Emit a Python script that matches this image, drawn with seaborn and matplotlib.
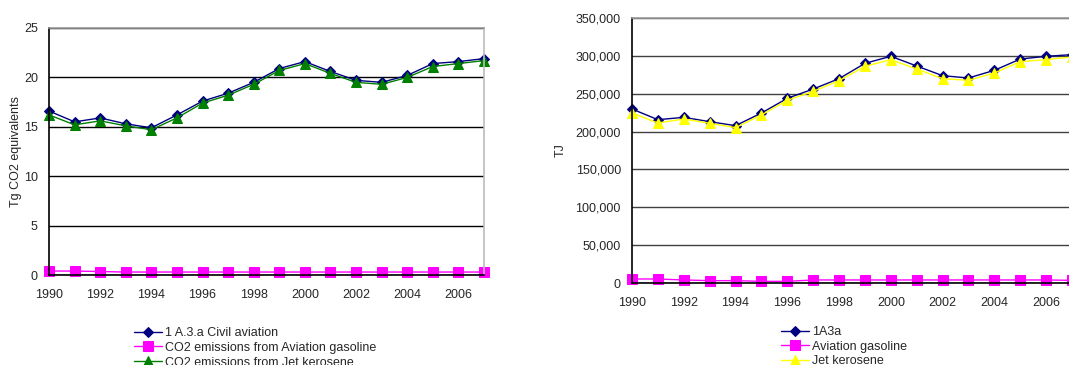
import matplotlib
matplotlib.use("Agg")
import matplotlib.pyplot as plt
import matplotlib.ticker as mticker
import seaborn as sns
import pandas as pd

years = list(range(1990, 2008))

# Left chart: Tg CO2 equivalents
civil_co2 = [16.6, 15.5, 15.9, 15.3, 14.9, 16.2, 17.6, 18.4, 19.5, 20.9, 21.6, 20.6, 19.7, 19.5, 20.2, 21.4, 21.6, 21.9]
avgas_co2 = [0.4, 0.4, 0.35, 0.3, 0.3, 0.3, 0.3, 0.3, 0.3, 0.3, 0.3, 0.3, 0.3, 0.3, 0.3, 0.3, 0.3, 0.3]
jet_co2 = [16.2, 15.2, 15.6, 15.1, 14.7, 15.9, 17.4, 18.2, 19.3, 20.7, 21.4, 20.4, 19.5, 19.3, 20.0, 21.1, 21.4, 21.7]

# Right chart: TJ
civil_tj = [229800, 215700, 218800, 213100, 207800, 224500, 243900, 256200, 269900, 290100, 299400, 286600, 273800, 270800, 280900, 295800, 299400, 301600]
avgas_tj = [5300, 5300, 4000, 3100, 3100, 2200, 2200, 4000, 4000, 4000, 4000, 4000, 4000, 4000, 4000, 4000, 4000, 3500]
jet_tj = [224500, 211300, 216600, 210900, 205200, 221900, 241300, 253100, 267200, 286200, 295000, 282600, 269900, 267700, 277400, 292300, 295000, 298500]

left_labels = ["1 A.3.a Civil aviation", "CO2 emissions from Aviation gasoline", "CO2 emissions from Jet kerosene"]
right_labels = ["1A3a", "Aviation gasoline", "Jet kerosene"]

sns.set_style("white")
plt.rcParams['font.family'] = ['Liberation Sans', 'DejaVu Sans']
plt.rcParams['font.size'] = 9

fig = plt.figure(figsize=(10.69, 3.65), dpi=100)
axL = fig.add_axes([49/1069, 1-275/365, (484-49)/1069, (275-28)/365])
axR = fig.add_axes([632/1069, 1-283/365, (1072-632)/1069, (283-18)/365])


def draw(ax, series, labels, third_color, grid_color):
    st = [dict(color="#000080", marker="D", markersize=5, mfc="#000080", mec="#000080"),
          dict(color="#FF00FF", marker="s", markersize=7, mfc="#FF00FF", mec="#FF00FF"),
          dict(color=third_color, marker="^", markersize=7, mfc=third_color, mec=third_color)]
    for vals, lab, s in zip(series, labels, st):
        df = pd.DataFrame({"year": years, "value": vals})
        sns.lineplot(data=df, x="year", y="value", ax=ax, label=lab, linewidth=1.0, **s)
    ax.set_xlim(1990, 2007)
    ax.set_xticks(years)
    ax.set_xticklabels([str(y) if (y % 2 == 0) else "" for y in years])
    ax.set_xlabel("")
    ax.grid(axis="y", color=grid_color, linewidth=1.0)
    ax.set_axisbelow(True)
    ax.tick_params(axis="x", direction="out", length=4, width=1, color="black", pad=6, labelsize=9)
    ax.tick_params(axis="y", direction="out", length=4, width=1, color="black", pad=4, labelsize=9)
    ax.spines["left"].set_color("black")
    ax.spines["bottom"].set_color("black")
    ax.spines["top"].set_color("#999999")
    ax.spines["right"].set_color("#bbbbbb")
    for sp in ax.spines.values():
        sp.set_linewidth(1.2)
    ax.legend_.remove()
    for line in ax.get_lines():
        line.set_clip_on(False)


draw(axL, [civil_co2, avgas_co2, jet_co2], left_labels, "#008000", "black")
axL.set_ylim(0, 25)
axL.set_yticks([0, 5, 10, 15, 20, 25])
axL.set_ylabel("Tg CO2 equivalents", fontsize=9)
axL.yaxis.set_label_coords(-0.061, 0.5)

draw(axR, [civil_tj, avgas_tj, jet_tj], right_labels, "#FFFF00", "#404040")
axR.set_ylim(0, 350000)
axR.set_yticks(range(0, 350001, 50000))
axR.yaxis.set_major_formatter(mticker.FuncFormatter(lambda v, p: f"{int(v):,}"))
axR.set_ylabel("TJ", fontsize=9)
axR.yaxis.set_label_coords(-0.149, 0.5)

hL, lL = axL.get_legend_handles_labels()
fig.legend(hL, lL, loc="upper left", bbox_to_anchor=(134/1069, 1-327/365), frameon=False,
           fontsize=9, handlelength=2.2, handletextpad=0.3, labelspacing=0.22, borderaxespad=0, borderpad=0)
hR, lR = axR.get_legend_handles_labels()
fig.legend(hR, lR, loc="upper left", bbox_to_anchor=(781/1069, 1-326/365), frameon=False,
           fontsize=9, handlelength=2.2, handletextpad=0.3, labelspacing=0.22, borderaxespad=0, borderpad=0)

fig.savefig("out.png", dpi=100)
